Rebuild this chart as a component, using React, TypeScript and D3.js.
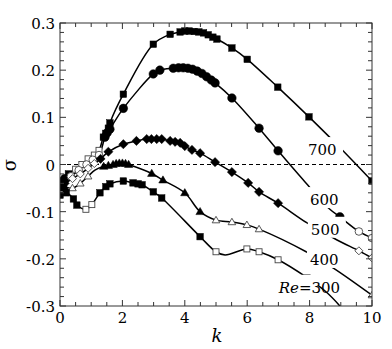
import React from 'react';
import * as d3 from 'd3';

// [k, sigma, marker]  marker: 'F' filled, 'O' open, '' none
const re700: [number, number, string][] = [
  [0.0, -0.035, 'F'], [0.12, -0.04, 'F'], [0.27, -0.02, 'F'], [0.5, -0.01, 'O'], [0.7, 0.0, 'O'],
  [0.9, 0.012, 'O'], [1.1, 0.02, 'O'], [1.25, 0.03, 'O'], [1.39, 0.058, 'F'], [1.47, 0.066, 'F'],
  [1.55, 0.077, 'F'], [1.6, 0.088, 'F'], [2.03, 0.149, 'F'], [2.99, 0.255, 'F'], [3.53, 0.276, 'F'],
  [3.85, 0.281, 'F'], [4.0, 0.283, 'F'], [4.15, 0.283, 'F'], [4.3, 0.282, 'F'], [4.45, 0.281, 'F'],
  [4.6, 0.279, 'F'], [4.75, 0.275, 'F'], [4.9, 0.27, 'F'], [5.03, 0.266, 'F'], [5.51, 0.247, 'F'],
  [6.0, 0.223, 'F'], [6.98, 0.164, 'F'], [7.98, 0.101, 'F'], [9.0, 0.034, ''], [10, -0.035, 'F'],
];
const re600: [number, number, string][] = [
  [0.0, -0.04, 'F'], [0.15, -0.03, 'F'], [0.35, -0.025, 'O'], [0.6, -0.012, 'O'], [0.85, 0.0, 'O'],
  [1.05, 0.01, 'O'], [1.25, 0.02, 'O'], [1.44, 0.058, 'F'], [1.51, 0.067, 'F'], [1.6, 0.075, 'F'],
  [2.03, 0.119, 'F'], [2.99, 0.192, 'F'], [3.2, 0.2, 'F'], [3.63, 0.204, 'F'], [3.8, 0.205, 'F'],
  [3.95, 0.205, 'F'], [4.1, 0.204, 'F'], [4.25, 0.202, 'F'], [4.4, 0.198, 'F'], [4.55, 0.193, 'F'],
  [4.7, 0.186, 'F'], [4.85, 0.179, 'F'], [4.97, 0.173, 'F'], [5.51, 0.141, 'F'], [6.38, 0.077, 'F'],
  [6.99, 0.029, 'F'], [7.8, -0.033, ''], [8.65, -0.095, ''], [8.97, -0.111, 'F'], [9.58, -0.142, 'O'],
  [10, -0.156, 'O'],
];
const re500: [number, number, string][] = [
  [0.0, -0.045, 'F'], [0.15, -0.04, 'F'], [0.4, -0.03, 'O'], [0.65, -0.02, 'O'], [0.9, -0.008, 'O'],
  [1.1, 0.002, 'O'], [1.3, 0.012, 'F'], [1.55, 0.027, 'F'], [2.03, 0.043, 'F'], [2.45, 0.05, 'F'],
  [2.78, 0.054, 'F'], [2.93, 0.054, 'F'], [3.1, 0.054, 'F'], [3.26, 0.054, 'F'], [3.53, 0.05, 'F'],
  [3.69, 0.048, 'F'], [3.85, 0.046, 'F'], [4.0, 0.039, 'F'], [4.23, 0.031, 'F'], [4.49, 0.024, 'F'],
  [4.97, 0.005, 'F'], [5.51, -0.016, 'F'], [6.03, -0.039, 'F'], [6.38, -0.058, 'F'], [6.99, -0.082, 'F'],
  [7.92, -0.124, ''], [8.88, -0.16, ''], [9.58, -0.183, 'O'], [10, -0.198, 'O'],
];
const re400: [number, number, string][] = [
  [0.0, -0.05, 'F'], [0.15, -0.048, 'F'], [0.4, -0.05, 'O'], [0.65, -0.04, 'O'], [0.9, -0.025, 'O'],
  [1.12, -0.012, ''], [1.4, -0.004, 'F'], [1.55, -0.002, 'F'], [1.7, 0.0, 'F'], [1.8, 0.002, 'F'],
  [1.9, 0.003, 'F'], [2.0, 0.003, 'F'], [2.1, 0.002, 'F'], [2.2, 0.0, 'F'], [2.94, -0.019, 'F'],
  [3.3, -0.033, 'F'], [4.0, -0.06, 'F'], [4.49, -0.1, 'F'], [5.0, -0.118, 'O'], [5.51, -0.122, 'O'],
  [5.99, -0.128, 'O'], [6.38, -0.137, 'O'], [7.92, -0.186, ''], [8.75, -0.219, ''], [10, -0.277, 'O'],
];
const re300: [number, number, string][] = [
  [0.0, -0.065, 'F'], [0.2, -0.06, 'F'], [0.43, -0.073, 'F'], [0.54, -0.086, 'F'], [0.83, -0.095, 'O'],
  [1.02, -0.085, 'O'], [1.28, -0.06, 'F'], [1.47, -0.047, 'F'], [1.6, -0.041, 'F'], [2.03, -0.035, 'F'],
  [2.34, -0.039, 'F'], [2.5, -0.041, 'F'], [2.63, -0.043, 'F'], [2.99, -0.058, 'F'], [3.26, -0.071, 'F'],
  [4.49, -0.153, 'F'], [5.0, -0.185, 'O'], [5.29, -0.192, ''], [5.99, -0.179, 'O'], [6.38, -0.185, 'O'],
  [6.99, -0.202, 'O'], [7.92, -0.24, 'O'], [8.56, -0.272, ''], [9.0, -0.302, ''], [9.3, -0.325, ''],
];

const xTicks = [0, 2, 4, 6, 8, 10];
const yTicks = [-0.3, -0.2, -0.1, 0, 0.1, 0.2, 0.3];
// label text, k, sigma at baseline
const labels: [string, number, number][] = [
  ['700', 7.95, 0.02],
  ['600', 8.01, -0.086],
  ['500', 8.04, -0.149],
  ['400', 8.01, -0.213],
  ['300', 7.15, -0.272],
];

const W = 392, H = 349;
const x = d3.scaleLinear().domain([0, 10]).range([60, 372]);
const y = d3.scaleLinear().domain([-0.3, 0.3]).range([306, 23]);
// Liberation Serif is not picked up here, DejaVu Serif is
const serif = { fontFamily: "'DejaVu Serif', serif" };

const line = d3.line<[number, number, string]>()
  .x(d => x(d[0]))
  .y(d => y(d[1]))
  .curve(d3.curveCatmullRom.alpha(0.5));

const series = [
  { data: re700, shape: 'square' },
  { data: re600, shape: 'circle' },
  { data: re500, shape: 'diamond' },
  { data: re400, shape: 'triangle' },
  { data: re300, shape: 'square' },
];

const Marker = ({ shape, cx, cy, filled }: { shape: string; cx: number; cy: number; filled: boolean }) => {
  const fill = filled ? '#000' : '#fff';
  const stroke = filled ? '#000' : '#444';
  const sw = filled ? 0.5 : 0.9;
  if (shape === 'square') {
    const s = filled ? 6.5 : 6;
    return <rect x={cx - s / 2} y={cy - s / 2} width={s} height={s} fill={fill} stroke={stroke} strokeWidth={sw} />;
  }
  if (shape === 'circle') {
    return <circle cx={cx} cy={cy} r={filled ? 4.3 : 3.8} fill={fill} stroke={stroke} strokeWidth={sw} />;
  }
  if (shape === 'diamond') {
    const r = filled ? 4.6 : 4;
    return <path d={`M${cx},${cy - r}L${cx + r},${cy}L${cx},${cy + r}L${cx - r},${cy}Z`} fill={fill} stroke={stroke} strokeWidth={sw} />;
  }
  const r = filled ? 4.2 : 3.8;
  return <path d={`M${cx},${cy - r}L${cx + r},${cy + r * 0.7}L${cx - r},${cy + r * 0.7}Z`} fill={fill} stroke={stroke} strokeWidth={sw} />;
};

export default function App() {
  const minorX = d3.range(0, 10.001, 0.5);
  const minorY = d3.range(-0.3, 0.3001, 0.02);
  const [x0, x1] = x.range();
  const [y0, y1] = y.range();
  return (
    <svg width={W} height={H} style={{ position: 'absolute', left: 0, top: 0, background: '#fff' }}>
      <defs>
        <clipPath id="plot">
          <rect x={x0} y={y1} width={x1 - x0} height={y0 - y1} />
        </clipPath>
      </defs>
      <rect width={W} height={H} fill="#fff" />
      <line x1={x0} x2={x1} y1={y(0)} y2={y(0)} stroke="#000" strokeWidth={1} strokeDasharray="4,3" />
      <g clipPath="url(#plot)">
        {series.map((s, i) => (
          <path key={i} d={line(s.data) || ''} fill="none" stroke="#000" strokeWidth={1.5} />
        ))}
      </g>
      <g clipPath="url(#plot)">
        {series.map((s, i) =>
          s.data.filter(d => d[2] !== '').map((d, j) => (
            <Marker key={`${i}-${j}`} shape={s.shape} cx={x(d[0])} cy={y(d[1])} filled={d[2] === 'F'} />
          ))
        )}
      </g>
      {labels.map(([t, k, s], i) => {
        const bx = x(k) - (t === '300' ? 30 : 3);
        const by = y(s);
        return <rect key={i} x={bx} y={by - 18} width={x(k) + 30 - bx + 5} height={21} fill="#fff" />;
      })}
      {labels.map(([t, k, s], i) => (
        <text key={i} x={x(k)} y={y(s)} style={serif} fontSize={15} fill="#000"
          textAnchor={t === '300' ? 'end' : 'start'} dx={t === '300' ? 57 : 0}>
          {t === '300' ? <><tspan fontStyle="italic">Re</tspan>=300</> : t}
        </text>
      ))}
      {/* frame and ticks */}
      <rect x={x0} y={y1} width={x1 - x0} height={y0 - y1} fill="none" stroke="#333" strokeWidth={1} />
      {minorX.map((v, i) => {
        const major = Math.abs(v / 2 - Math.round(v / 2)) < 1e-6;
        const len = major ? 6 : 4;
        return (
          <g key={i} stroke="#333" strokeWidth={1}>
            <line x1={x(v)} x2={x(v)} y1={y0} y2={y0 - len} />
            <line x1={x(v)} x2={x(v)} y1={y1} y2={y1 + len} />
          </g>
        );
      })}
      {minorY.map((v, i) => {
        const major = Math.abs(v * 10 - Math.round(v * 10)) < 1e-6;
        const len = major ? 6 : 4;
        return (
          <g key={i} stroke="#333" strokeWidth={1}>
            <line x1={x0} x2={x0 + len} y1={y(v)} y2={y(v)} />
            <line x1={x1} x2={x1 - len} y1={y(v)} y2={y(v)} />
          </g>
        );
      })}
      {xTicks.map(v => (
        <text key={v} x={x(v)} y={323} textAnchor="middle" style={serif} fontSize={15} fill="#000">{v}</text>
      ))}
      {yTicks.map(v => (
        <text key={v} x={55} y={y(v) + 6} textAnchor="end" style={serif} fontSize={15} fill="#000">
          {v === 0 ? '0' : v.toFixed(1)}
        </text>
      ))}
      <text x={217} y={342} textAnchor="middle" style={serif} fontSize={18} fontStyle="italic">k</text>
      <text transform={`translate(16,165) rotate(-90)`} textAnchor="middle" style={serif} fontSize={18}>σ</text>
    </svg>
  );
}
